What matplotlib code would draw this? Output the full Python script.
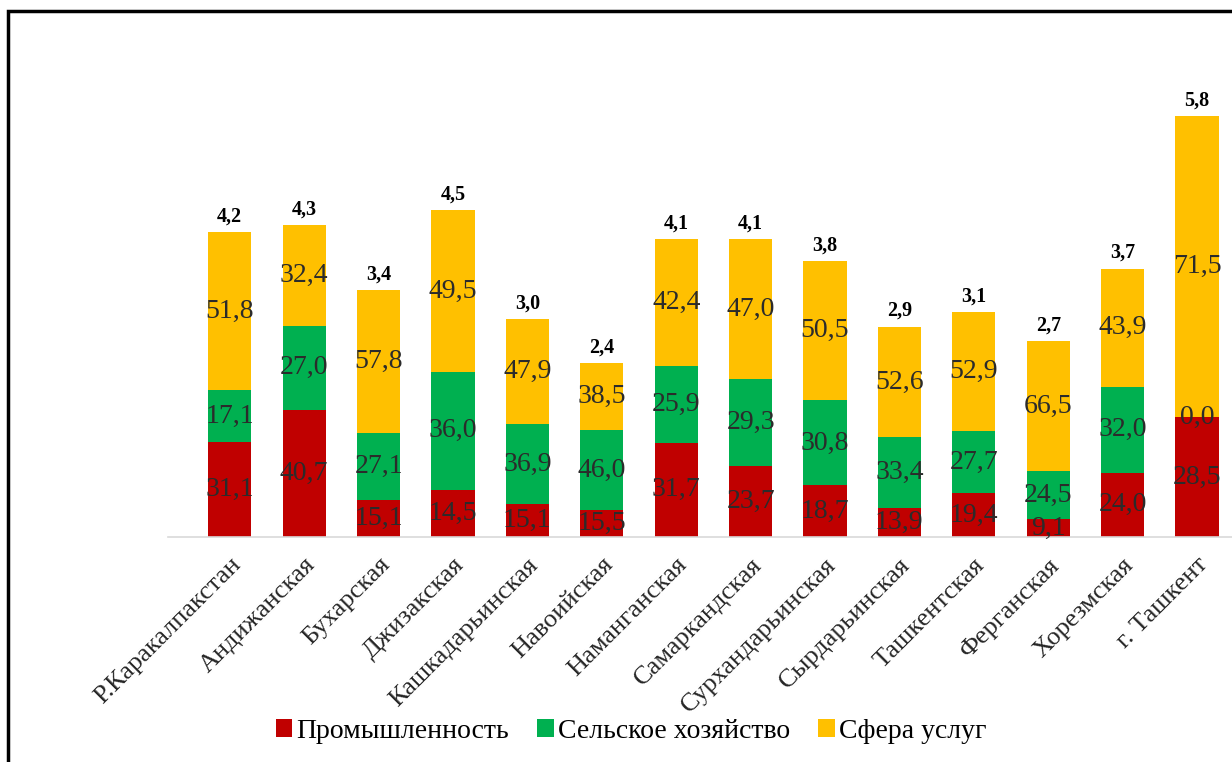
import matplotlib.pyplot as plt
import numpy as np
from matplotlib.patches import Rectangle

regions = ['Р.Каракалпакстан', 'Андижанская', 'Бухарская', 'Джизакская',
           'Кашкадарьинская', 'Навоийская', 'Наманганская', 'Самаркандская',
           'Сурхандарьинская', 'Сырдарьинская', 'Ташкентская', 'Ферганская',
           'Хорезмская', 'г. Ташкент']
totals = [4.2, 4.3, 3.4, 4.5, 3.0, 2.4, 4.1, 4.1, 3.8, 2.9, 3.1, 2.7, 3.7, 5.8]
industry = [31.1, 40.7, 15.1, 14.5, 15.1, 15.5, 31.7, 23.7, 18.7, 13.9, 19.4, 9.1, 24.0, 28.5]
agriculture = [17.1, 27.0, 27.1, 36.0, 36.9, 46.0, 25.9, 29.3, 30.8, 33.4, 27.7, 24.5, 32.0, 0.0]
services = [51.8, 32.4, 57.8, 49.5, 47.9, 38.5, 42.4, 47.0, 50.5, 52.6, 52.9, 66.5, 43.9, 71.5]

series = [('Промышленность', industry, '#C00000'),
          ('Сельское хозяйство', agriculture, '#00B050'),
          ('Сфера услуг', services, '#FFC000')]

plt.rcParams['font.family'] = ['Liberation Serif', 'DejaVu Serif']

W, H = 1232, 762
fig = plt.figure(figsize=(W / 100, H / 100), dpi=100)
ax = fig.add_axes([168 / W, (H - 537) / H, (W - 168) / W, 497 / H])

x = np.arange(len(regions))
tot = np.array(totals)
bottom = np.zeros(len(regions))
for name, pct, col in series:
    h = tot * np.array(pct) / 100
    ax.bar(x, h, 0.58, bottom=bottom, color=col, label=name, zorder=2)
    for xi, b, hi, p in zip(x, bottom, h, pct):
        ax.text(xi, b + hi / 2, f'{p:.1f}'.replace('.', ','), ha='center', va='center',
                fontsize=20, color='#2b2b2b', zorder=3)
    bottom = bottom + h

for xi, t in zip(x, totals):
    ax.annotate(f'{t:.1f}'.replace('.', ','), (xi, t), xytext=(0, 4), textcoords='offset points',
                ha='center', va='bottom', fontsize=14.5, fontweight='bold')

ax.set_xlim(-0.83, 13.47)
ax.set_ylim(0, 497 / 72.6)
for s in ['top', 'right', 'left']:
    ax.spines[s].set_visible(False)
ax.spines['bottom'].set_color('#D9D9D9')
ax.spines['bottom'].set_linewidth(1.2)
ax.set_yticks([])
ax.set_xticks(x)
ax.set_xticklabels(regions, rotation=45, ha='right', rotation_mode='anchor', fontsize=19,
                   color='#262626')
ax.tick_params(axis='x', length=0, pad=12)

fig.legend(loc='center', bbox_to_anchor=(631 / W, 31 / H), ncol=3, frameon=False,
           fontsize=20, handlelength=0.6, handleheight=0.6, handletextpad=0.15,
           columnspacing=1.0)

# frame around the chart (cut off at the right and bottom)
fig.patches.append(Rectangle((8 / W, -0.1), 1.2, (H - 11) / H + 0.1, transform=fig.transFigure,
                             fill=False, edgecolor='black', linewidth=2.5, zorder=10))

fig.savefig('out.png', dpi=100)
